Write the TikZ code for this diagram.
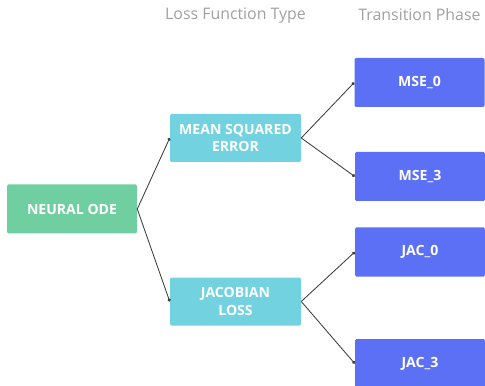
\documentclass[tikz,border=0pt]{standalone}
\usepackage{fontspec}
\setmainfont{Open Sans}
\usepackage{tikz}
\usetikzlibrary{arrows.meta}
\definecolor{odegreen}{RGB}{111,207,160}
\definecolor{losscyan}{RGB}{114,210,224}
\definecolor{phaseblue}{RGB}{91,112,245}
\definecolor{headgray}{RGB}{160,160,160}
\definecolor{linkgray}{RGB}{60,60,60}

\begin{document}
\begin{tikzpicture}[node distance=4cm,
    box/.style={rectangle, rounded corners=1pt, text=white, align=center,
        font=\fontsize{10}{12.5}\selectfont\bfseries, inner sep=0pt},
    odebox/.style={box, fill=odegreen, minimum width=3.25cm, minimum height=1.225cm},
    lossbox/.style={box, fill=losscyan, minimum width=3.275cm, minimum height=1.2cm},
    phasebox/.style={box, fill=phaseblue, minimum width=3.25cm, minimum height=1.225cm},
    head/.style={text=headgray, font=\fontsize{11.3}{13}\selectfont},
    link/.style={draw=linkgray, line width=0.6pt, -{Circle[length=2.2pt]}}]

        \useasboundingbox (0,0) rectangle (12.125,-9.65);

        % Neural ODE
        \node[odebox] (ode) at (1.8,-5.225) {NEURAL ODE};

        % Loss function type
        \node[lossbox, right of=ode, yshift=1.775cm, node distance=4.0875cm] (mse) {MEAN SQUARED\\ERROR};
        \node[lossbox, right of=ode, yshift=-2.3125cm, node distance=4.0875cm] (jac) {JACOBIAN\\LOSS};
        \draw[link] (ode.east) -- (mse.west);
        \draw[link] (ode.east) -- (jac.west);

        % Transition phase
        \node[phasebox, right of=mse, yshift=1.3875cm, node distance=4.6cm] (mse0) {MSE\_0};
        \node[phasebox, right of=mse, yshift=-0.9625cm, node distance=4.6125cm] (mse3) {MSE\_3};
        \node[phasebox, right of=jac, yshift=1.2375cm, node distance=4.6125cm] (jac0) {JAC\_0};
        \node[phasebox, right of=jac, yshift=-1.55cm, node distance=4.6125cm] (jac3) {JAC\_3};
        \draw[link] (mse.east) -- (mse0.west);
        \draw[link] (mse.east) -- (mse3.west);
        \draw[link] (jac.east) -- (jac0.west);
        \draw[link] (jac.east) -- (jac3.west);

        % Column headings
        \node[head, above of=mse, node distance=3.05cm] (losshead) {Loss Function Type};
        \node[head, above of=mse0, node distance=1.69cm] (phasehead) {Transition Phase};

        \end{tikzpicture}
\end{document}
